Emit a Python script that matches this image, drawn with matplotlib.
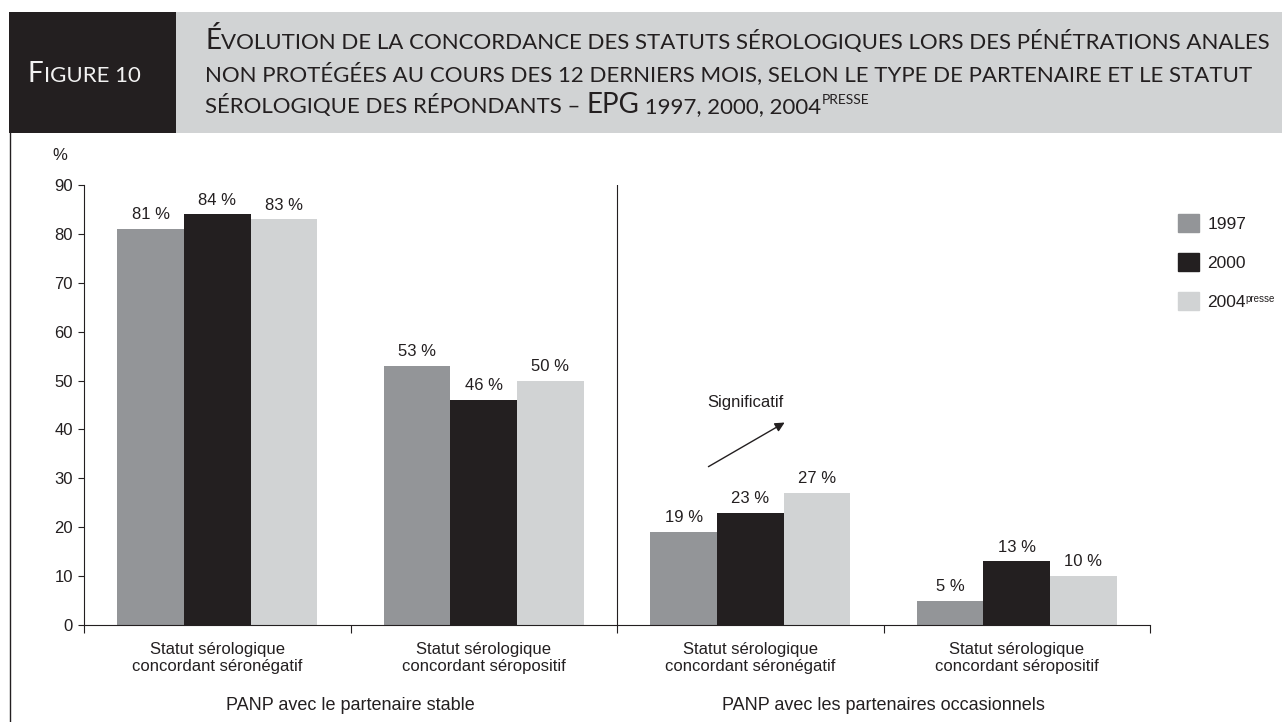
import matplotlib
matplotlib.use("Agg")
import matplotlib.pyplot as plt
from matplotlib.patches import Rectangle, Patch
from matplotlib.lines import Line2D
import numpy as np

plt.rcParams['font.family'] = ['Liberation Sans', 'DejaVu Sans']

# Data
categories = ["Statut sérologique\nconcordant séronégatif",
              "Statut sérologique\nconcordant séropositif",
              "Statut sérologique\nconcordant séronégatif",
              "Statut sérologique\nconcordant séropositif"]
groups = ["PANP avec le partenaire stable", "PANP avec les partenaires occasionnels"]
years = ["1997", "2000", "2004"]
v1997 = [81, 53, 19, 5]
v2000 = [84, 46, 23, 13]
v2004 = [83, 50, 27, 10]
yticks = [0, 10, 20, 30, 40, 50, 60, 70, 80, 90]

colors = ["#939598", "#231f20", "#d1d3d4"]
TXT = "#231f20"
HFONT = ['Lato', 'DejaVu Sans']

W, H = 1282, 722
fig = plt.figure(figsize=(W / 100, H / 100), dpi=100)


def fx(px):
    return px / W


def fy(py):
    return 1 - py / H


# header
fig.add_artist(Rectangle((fx(9), fy(133)), fx(176 - 9), fy(12) - fy(133),
                         transform=fig.transFigure, color="#231f20", lw=0))
fig.add_artist(Rectangle((fx(176), fy(133)), fx(W - 176), fy(12) - fy(133),
                         transform=fig.transFigure, color="#d1d3d4", lw=0))
fig.add_artist(Line2D([fx(10), fx(10)], [0, fy(133)], transform=fig.transFigure,
                      color=TXT, lw=1))

renderer = fig.canvas.get_renderer()


def text_width(s, size):
    # width including trailing spaces, measured with a sentinel glyph
    t1 = fig.text(0, 0, s + "I", fontsize=size, family=HFONT)
    t2 = fig.text(0, 0, "I", fontsize=size, family=HFONT)
    w = t1.get_window_extent(renderer).width - t2.get_window_extent(renderer).width
    t1.remove()
    t2.remove()
    return w


def small_caps(s, x, y, big, small, color, rise=0):
    # split into runs of capitals (big) and everything else (small caps)
    runs = []
    for ch in s:
        sz = big if ch.isupper() else small
        if runs and runs[-1][1] == sz:
            runs[-1][0] += ch.upper()
        else:
            runs.append([ch.upper(), sz])
    for txt, sz in runs:
        fig.text(fx(x), fy(y - rise), txt, fontsize=sz, family=HFONT, color=color,
                 ha="left", va="baseline")
        x += text_width(txt, sz)
    return x


small_caps("Figure 10", 28, 82, 20, 16, "#f2f2f2")
small_caps("Évolution de la concordance des statuts sérologiques lors des pénétrations anales",
           205, 49, 20, 16, TXT)
small_caps("non protégées au cours des 12 derniers mois, selon le type de partenaire et le statut",
           205, 81, 20, 16, TXT)
xe = small_caps("sérologique des répondants – EPG 1997, 2000, 2004", 205, 113, 20, 16, TXT)
small_caps("presse", xe + 1, 113, 10, 10, TXT, rise=9)

# axes
ax = fig.add_axes([fx(84), fy(625), fx(1150 - 84), fy(185) - fy(625)])
x = np.arange(len(categories))
bw = 0.25
for i, (vals, c) in enumerate(zip([v1997, v2000, v2004], colors)):
    bars = ax.bar(x + (i - 1) * bw, vals, bw, color=c, label=years[i], lw=0)
    for b, v in zip(bars, vals):
        ax.annotate(f"{v} %", (b.get_x() + b.get_width() / 2, v), xytext=(0, 7),
                    textcoords="offset points", ha="center", va="baseline",
                    fontsize=12, color=TXT)

ax.set_xlim(-0.5, len(categories) - 0.5)
ax.set_ylim(0, 90)
ax.set_yticks(yticks)
ax.tick_params(axis="y", length=4, width=0.8, labelsize=12, colors=TXT, pad=4)
ax.set_xticks(np.arange(-0.5, len(categories)), [""] * (len(categories) + 1))
ax.set_xticks(x, categories, minor=True)
ax.tick_params(axis="x", which="major", length=6, width=0.8, color=TXT)
ax.tick_params(axis="x", which="minor", length=0, labelsize=12, pad=12, labelcolor=TXT)
for s in ["top", "right"]:
    ax.spines[s].set_visible(False)
for s in ["left", "bottom"]:
    ax.spines[s].set_color(TXT)
    ax.spines[s].set_linewidth(0.8)
ax.axvline(1.5, color=TXT, lw=0.8)

fig.text(fx(52), fy(155), "%", fontsize=12, color=TXT, ha="left", va="center")

for gx, g in zip([0.5, 2.5], groups):
    ax.annotate(g, (gx, fy(706)), xycoords=("data", "figure fraction"),
                ha="center", va="center", fontsize=13, color=TXT)

# significance arrow
ax.annotate("", xy=(2.138, 41.7), xytext=(1.834, 32.1),
            arrowprops=dict(arrowstyle="-|>", color=TXT, lw=1, mutation_scale=14))
ax.text(1.98, 44.6, "Significatif", ha="center", va="baseline", fontsize=12, color=TXT)

handles = [Patch(color=c, label=l) for c, l in zip(colors, years)]
leg = fig.legend(handles=handles, loc="upper left", bbox_to_anchor=(fx(1169), fy(205)),
                 frameon=False, fontsize=12.5, handlelength=1.25, handleheight=1.25,
                 labelspacing=1.2, handletextpad=0.45, borderpad=0, labelcolor=TXT)
fig.canvas.draw()
bb = leg.get_texts()[2].get_window_extent(fig.canvas.get_renderer())
fig.text(fx(bb.x1), bb.y1 / H + 0.001, "presse", fontsize=7, color=TXT,
         ha="left", va="top")

fig.savefig("out.png", dpi=100)
